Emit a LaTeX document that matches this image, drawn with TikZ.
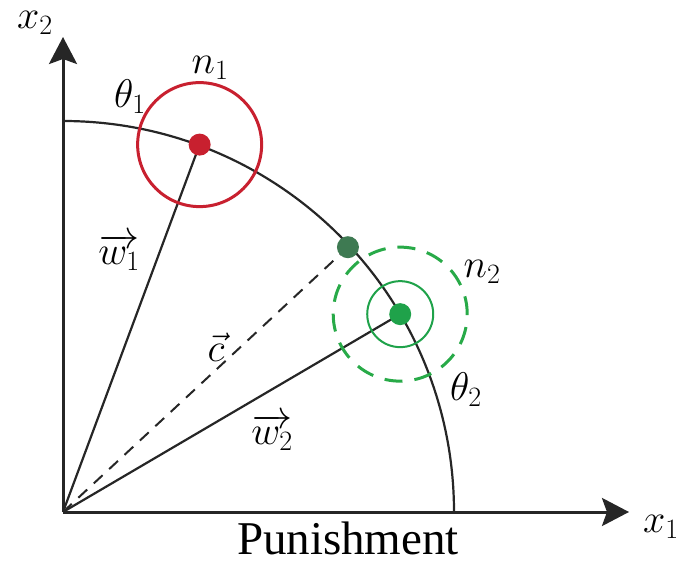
\RequirePackage{fix-cm}
\documentclass[tikz,border=0pt]{standalone}
\usepackage{fontspec}
\newfontfamily\timesf{Liberation Serif}
\usetikzlibrary{arrows.meta,calc}
\definecolor{cred}{HTML}{C8202F}
\definecolor{cgreen}{HTML}{1FA24A}
\definecolor{cdgreen}{HTML}{3E7A52}
\definecolor{cgreenl}{HTML}{28AA48}
\tikzset{
  axis/.style={line width=3pt, draw=black!85, -{Stealth[length=27pt,width=28pt,inset=5pt]}},
  thin/.style={line width=2.2pt, draw=black!85},
  dot/.style={circle, inner sep=0pt, minimum size=22pt},
  lbl/.style={font=\fontsize{40}{42}\selectfont, inner sep=0pt},
}
\begin{document}
\begin{tikzpicture}[x=1pt,y=1pt]
\useasboundingbox (0,0) rectangle (678,563);
\coordinate (O) at (63,51);
\coordinate (Ytip) at (63,526);
\coordinate (Xtip) at (629,51);
\coordinate (P1) at ($(O)+(69.6:392)$);
\coordinate (C) at ($(O)+(42.9:389)$);
\coordinate (P2) at ($(O)+(30.4:391)$);
% arc
\draw[thin] ($(O)+(391,0)$) arc (0:90:391);
% vectors
\draw[thin] (O) -- (P1);
\draw[thin] (O) -- (P2);
\draw[thin, line width=2pt, dash pattern=on 12pt off 9pt] (O) -- (C);
% axes
\draw[axis] (O) -- (Ytip);
\draw[axis] (O) -- (Xtip);
% circles
\draw[cred, line width=3pt] (P1) circle (62);
\draw[cgreen, line width=2pt] (P2) circle (33);
\draw[cgreenl, line width=3pt, dash pattern=on 18pt off 12pt] (P2) circle (67);
% dots
\node[dot, fill=cred] (d1) at (P1) {};
\node[dot, fill=cdgreen] (dc) at (C) {};
\node[dot, fill=cgreen] (d2) at (P2) {};
% labels
\node[lbl] (lx2) at (35,540) {$x_2$};
\node[lbl] (lx1) at (661,36) {$x_1$};
\node[lbl] (lt1) at (130,466) {$\theta_1$};
\node[lbl] (ln1) at (210,495) {$n_1$};
\node[lbl] (ln2) at (482,291) {$n_2$};
\node[lbl] (lt2) at (466,173) {$\theta_2$};
\node[lbl] (lc) at (216,216) {$\vec{c}$};
\node[lbl] (lw2) at (272,131) {$\overrightarrow{w_2}$};
\node[lbl] (lw1) at (119,311) {$\overrightarrow{w_1}$};
\node[inner sep=0pt, anchor=base, font=\timesf\fontsize{47}{50}\selectfont] (pun) at (348,9) {Punishment};
\end{tikzpicture}
\end{document}
